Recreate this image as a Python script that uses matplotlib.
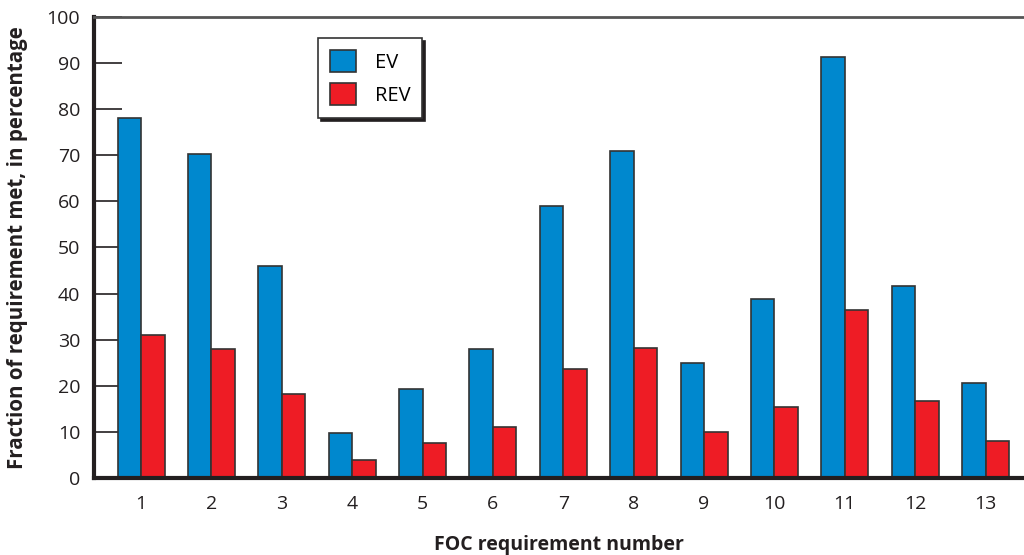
import numpy as np
import matplotlib.pyplot as plt

# data
reqs = [str(i) for i in range(1, 14)]
ev = [78, 70.3, 46, 9.8, 19.3, 28, 59, 70.9, 25, 38.8, 91.3, 41.6, 20.6]
rev = [31, 28, 18.2, 3.9, 7.6, 11, 23.6, 28.2, 10, 15.4, 36.4, 16.7, 8]

plt.rcParams['font.family'] = ['Open Sans', 'DejaVu Sans']

fig = plt.figure(figsize=(10.24, 5.55), dpi=100)
ax = fig.add_axes([94 / 1024, 1 - 478 / 555, 1 - 94 / 1024, (478 - 17) / 555])

x = np.arange(1, len(reqs) + 1)
w = 0.334
ax.bar(x - w / 2, ev, w, color='#0088CE', edgecolor='#333333', linewidth=1.2, label='EV', zorder=2)
ax.bar(x + w / 2, rev, w, color='#EE1C25', edgecolor='#333333', linewidth=1.2, label='REV', zorder=2)

ax.set_xlim(0.332, 13.547)
ax.set_ylim(0, 100)
ax.set_xticks(x)
ax.set_xticklabels(reqs)
ax.set_yticks(range(0, 101, 10))

ax.tick_params(axis='x', length=0, pad=12, labelsize=14, colors='#231f20')
ax.tick_params(axis='y', direction='in', length=20, width=1.2, pad=10, labelsize=14,
               colors='#231f20')

ax.spines['left'].set_linewidth(3)
ax.spines['bottom'].set_linewidth(3)
ax.spines['left'].set_color('#231f20')
ax.spines['bottom'].set_color('#231f20')
ax.spines['top'].set_linewidth(2)
ax.spines['top'].set_color('#555555')
ax.spines['right'].set_visible(False)

# axis titles, placed where the reference has them
ax.set_xlabel('FOC requirement number', fontsize=14, fontweight='bold', color='#231f20')
ax.xaxis.set_label_coords(0.5, (478 - 545) / 461)
ax.xaxis.label.set_va('center')
ax.set_ylabel('Fraction of requirement met, in percentage', fontsize=14.8, fontweight='bold',
              color='#231f20')
ax.yaxis.set_label_coords((18 - 94) / 930, 0.5)
ax.yaxis.label.set_va('center')

leg = ax.legend(loc='upper left', bbox_to_anchor=(0.241, 0.954), fontsize=14.5, frameon=True,
                fancybox=False, shadow={'color': '#231f20', 'alpha': 1}, edgecolor='#333333',
                handlelength=1.3, handleheight=1.3, borderpad=0.6, labelspacing=0.5,
                handletextpad=0.9, borderaxespad=0)
leg.get_frame().set_linewidth(1.2)

plt.savefig('out.png', dpi=100)
